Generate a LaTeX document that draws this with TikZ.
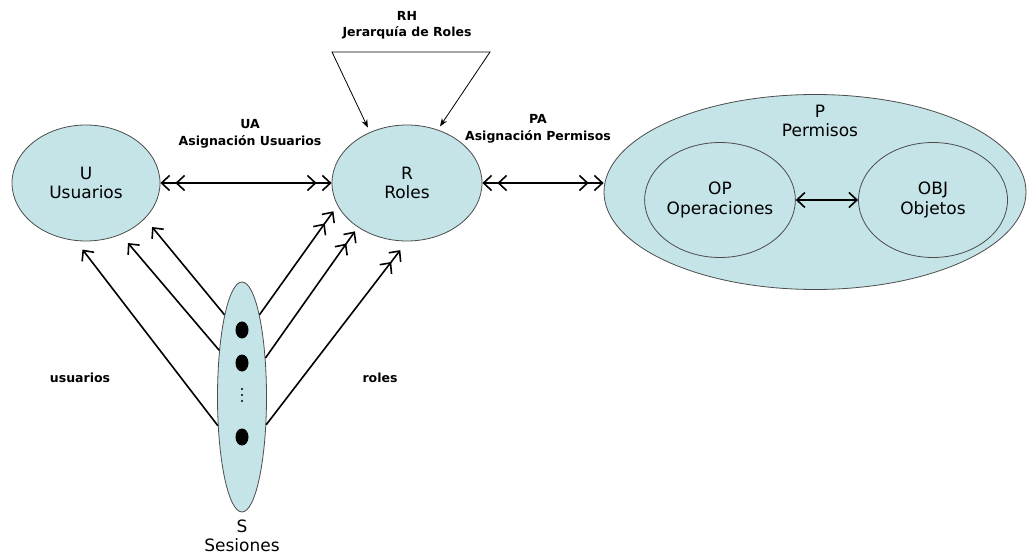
\documentclass[tikz,border=0pt]{standalone}
\usepackage{fontspec}
\setmainfont{DejaVu Sans}
\usetikzlibrary{positioning,shapes.geometric,arrows.meta}
\definecolor{setblue}{HTML}{C5E4E8}
\tikzset{
	set/.style={ellipse,draw=black!70,fill=setblue,line width=0.8pt,inner sep=0pt,align=center,font=\fontsize{17}{19.5}\selectfont},
	lbl/.style={align=center,font=\bfseries\fontsize{12.5}{16.5}\selectfont},
	assign/.style={line width=1.6pt,>={Straight Barb[length=8pt,width=15pt,sep=5pt]},shorten <=-5pt,shorten >=-5pt},
	session/.style={assign,shorten <=0pt},
	dot/.style={ellipse,fill=black,minimum width=13pt,minimum height=17pt,inner sep=0pt},
}

\begin{document}
\begin{tikzpicture}[x=1pt,y=-1pt]
	\useasboundingbox (0,0) rectangle (1029,556);
	\node[set,minimum width=148pt,minimum height=116pt](u) at (86,183){U\\Usuarios};
	\node[set,minimum width=150pt,minimum height=116pt](r) at (407,183){R\\Roles};
	\node[set,minimum width=422pt,minimum height=195pt](p) at (815,192){};
	\node[set,font=\fontsize{17}{19.5}\selectfont](plabel) at (820,121)[draw=none,fill=none]{P\\Permisos};
	\node[set,minimum width=149pt,minimum height=115pt](op) at (720,200){OP\\Operaciones};
	\node[set,minimum width=149pt,minimum height=115pt](obj) at (933,200){OBJ\\Objetos};
	\node[set,minimum width=49pt,minimum height=230pt](s) at (242,397){};
	\node[dot](s1) at (242,330){};
	\node[dot](s2) at (242,363){};
	\fill (242,389) circle (1.2) (242,395) circle (1.2) (242,401) circle (1.2);
	\node[dot](sn) at (242,437){};
	\node[align=center,font=\fontsize{17}{19.5}\selectfont](slabel) at (242,536){S\\Sesiones};
	
	% labels
	\node[lbl](ua) at (250,134){UA\\Asignación Usuarios};
	\node[lbl](pa) at (538,129){PA\\Asignación Permisos};
	\node[lbl](rh) at (407,25){RH\\Jerarquía de Roles};
	\node[lbl](usuarios) at (80,378){usuarios};
	\node[lbl](roles) at (380,378){roles};
	
	\coordinate (rhleft) at (332,52);
	\coordinate (rhright) at (490,52);
	
	\draw[assign,<<->>] (u.east) -- (r.west);
	\draw[assign,<<->>] (r.east) -- (r.east -| p.west);
	\draw[assign,<->] (op.east) -- (obj.west);
	\draw[line width=0.8pt,{Stealth[length=8pt,width=6pt]}-{Stealth[length=8pt,width=6pt]},shorten <=5pt,shorten >=4pt] (r.126) -- (rhleft) -- (rhright) -- (r.60);
	
	\draw[session,->,shorten >=6pt] (s.230) -- (u.260);
	\draw[session,->,shorten >=6pt] (s.116) -- (u.304);
	\draw[session,->,shorten >=6pt] (s.102) -- (u.329);
	\draw[session,->>,shorten >=2pt] (s.78) -- (r.198);
	\draw[session,->>,shorten >=0pt] (s.59) -- (r.222);
	\draw[session,->>,shorten >=6pt] (s.-49) -- (r.270);
\end{tikzpicture}
\end{document}
